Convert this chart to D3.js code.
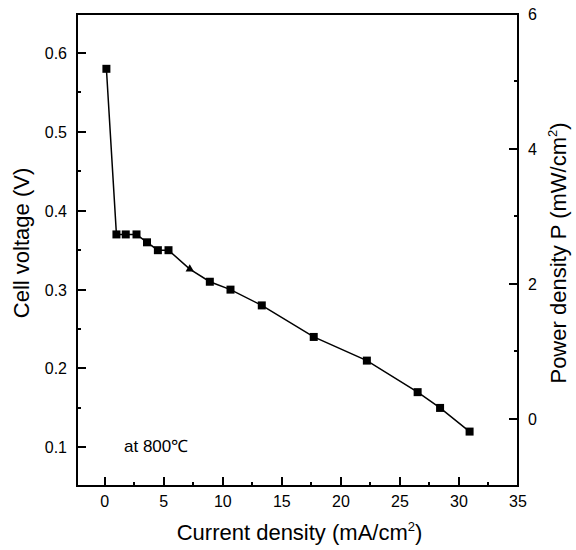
<!DOCTYPE html>
<html>
<head>
<meta charset="utf-8">
<script src="https://cdn.jsdelivr.net/npm/d3@7"></script>
<style>
  body { margin: 0; background: #fff; }
  svg { font-family: "Liberation Sans", Arial, sans-serif; }
</style>
</head>
<body>
<div id="chart"></div>
<script>
// measured data: current density (mA/cm2) vs cell voltage (V)
var current = [0.14, 0.99, 1.78, 2.69, 3.58, 4.5, 5.4, 7.2, 8.9, 10.65, 13.3, 17.7, 22.2, 26.5, 28.4, 30.9];
var voltage = [0.58, 0.37, 0.37, 0.37, 0.36, 0.35, 0.35, 0.326, 0.31, 0.30, 0.28, 0.24, 0.21, 0.17, 0.15, 0.12];

var xTicks = [0, 5, 10, 15, 20, 25, 30, 35];
var xMinor = [2.5, 7.5, 12.5, 17.5, 22.5, 27.5, 32.5];
var yTicks = [0.1, 0.2, 0.3, 0.4, 0.5, 0.6];
var yMinor = [0.15, 0.25, 0.35, 0.45, 0.55];
var pTicks = [0, 2, 4, 6];
var pMinor = [1, 3, 5];

var WIDTH = 576, HEIGHT = 550;
var LEFT = 77, RIGHT = 518, TOP = 14, BOTTOM = 486;
var MAJOR = 9, MINOR = 4;

var svg = d3.select('#chart')
            .append('svg')
            .attr('width', WIDTH)
            .attr('height', HEIGHT);

var x = d3.scaleLinear().domain([-2.35, 35]).range([LEFT, RIGHT]);
var y = d3.scaleLinear().domain([0.051, 0.6495]).range([BOTTOM, TOP]);
var yP = d3.scaleLinear().domain([-1, 6]).range([BOTTOM, TOP]);

// frame
svg.append('rect')
   .attr('x', LEFT)
   .attr('y', TOP)
   .attr('width', RIGHT - LEFT)
   .attr('height', BOTTOM - TOP)
   .attr('fill', 'none')
   .attr('stroke', '#000')
   .attr('stroke-width', 2);

// tick marks, all pointing into the plot
var tickG = svg.append('g')
               .attr('stroke', '#000')
               .attr('stroke-width', 2)
               .attr('shape-rendering', 'crispEdges');

[[xTicks, MAJOR], [xMinor, MINOR]].forEach(function(t) {
    tickG.append('g').selectAll('line').data(t[0]).enter().append('line')
         .attr('x1', function(d) { return Math.round(x(d)); })
         .attr('x2', function(d) { return Math.round(x(d)); })
         .attr('y1', BOTTOM).attr('y2', BOTTOM - t[1]);
});
[[yTicks, MAJOR], [yMinor, MINOR]].forEach(function(t) {
    tickG.append('g').selectAll('line').data(t[0]).enter().append('line')
         .attr('y1', function(d) { return Math.round(y(d)); })
         .attr('y2', function(d) { return Math.round(y(d)); })
         .attr('x1', LEFT).attr('x2', LEFT + t[1]);
});
[[pTicks, MAJOR], [pMinor, MINOR]].forEach(function(t) {
    tickG.append('g').selectAll('line').data(t[0]).enter().append('line')
         .attr('y1', function(d) { return Math.round(yP(d)); })
         .attr('y2', function(d) { return Math.round(yP(d)); })
         .attr('x1', RIGHT).attr('x2', RIGHT - t[1]);
});

// tick labels
svg.append('g').selectAll('text').data(xTicks).enter().append('text')
   .attr('x', function(d) { return x(d); }).attr('y', BOTTOM + 21)
   .attr('text-anchor', 'middle').style('font-size', '16px')
   .text(d3.format('d'));
svg.append('g').selectAll('text').data(yTicks).enter().append('text')
   .attr('x', LEFT - 10).attr('y', function(d) { return y(d) + 6; })
   .attr('text-anchor', 'end').style('font-size', '16px')
   .text(d3.format('.1f'));
svg.append('g').selectAll('text').data(pTicks).enter().append('text')
   .attr('x', RIGHT + 10).attr('y', function(d) { return yP(d) + 6; })
   .attr('text-anchor', 'start').style('font-size', '16px')
   .text(d3.format('d'));

var pts = current.map(function(c, i) { return [c, voltage[i]]; });

// the line through the points
svg.append('path')
   .datum(pts)
   .attr('d', d3.line()
                .x(function(d) { return x(d[0]); })
                .y(function(d) { return y(d[1]); }))
   .attr('fill', 'none')
   .attr('stroke', '#000')
   .attr('stroke-width', 1.5);

// square markers (one point shows as a small triangle in the scan)
svg.selectAll('path.marker')
   .data(pts)
   .enter()
   .append('path')
   .attr('class', 'marker')
   .attr('transform', function(d) { return 'translate(' + x(d[0]) + ',' + y(d[1]) + ')'; })
   .attr('d', function(d, i) {
       return i === 7 ? d3.symbol().type(d3.symbolTriangle).size(30)()
                      : d3.symbol().type(d3.symbolSquare).size(64)();
   })
   .attr('fill', '#000');

// annotation
svg.append('text')
   .attr('x', 124)
   .attr('y', 452)
   .style('font-size', '17px')
   .text('at 800℃');

// axis titles
var xt = svg.append('text')
            .attr('x', (LEFT + RIGHT) / 2 + 2)
            .attr('y', 540)
            .attr('text-anchor', 'middle')
            .style('font-size', '22px');
xt.append('tspan').text('Current density (mA/cm');
xt.append('tspan').attr('dy', -9).style('font-size', '13px').text('2');
xt.append('tspan').attr('dy', 9).text(')');

svg.append('text')
   .attr('transform', 'translate(29,243) rotate(-90)')
   .attr('text-anchor', 'middle')
   .style('font-size', '22px')
   .text('Cell voltage (V)');

var pt = svg.append('text')
            .attr('transform', 'translate(566,253) rotate(-90)')
            .attr('text-anchor', 'middle')
            .style('font-size', '22px');
pt.append('tspan').text('Power density P (mW/cm');
pt.append('tspan').attr('dy', -9).style('font-size', '13px').text('2');
pt.append('tspan').attr('dy', 9).text(')');
</script>
</body>
</html>
